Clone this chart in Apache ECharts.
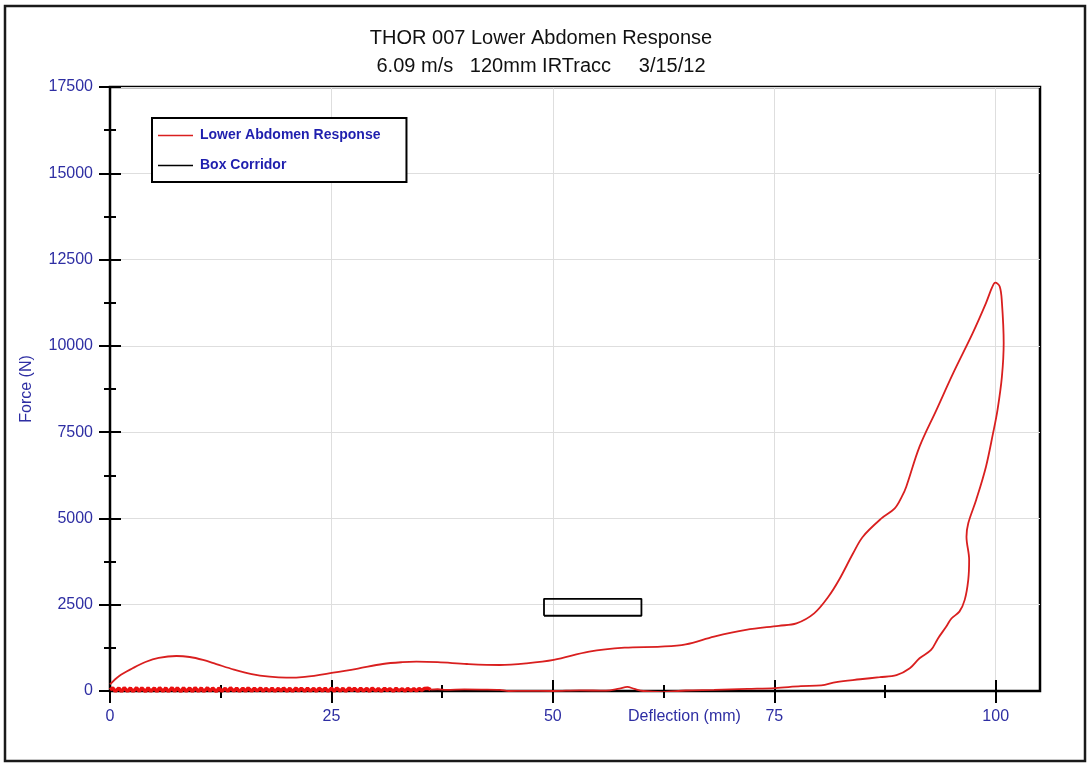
<!DOCTYPE html>
<html>
<head>
<meta charset="utf-8">
<script src="https://cdn.jsdelivr.net/npm/echarts@6/dist/echarts.min.js"></script>
<style>
  html, body { margin: 0; padding: 0; background: #fff; }
  #chart { width: 1092px; height: 764px; }
</style>
</head>
<body>
<div id="chart"></div>
<script>
// Deflection (mm) / force (N) pairs for the loading and unloading trace
const responseLoop = [
  [0, 190], [1, 430], [2.6, 665], [4, 840], [5.5, 960], [7.5, 1014], [9, 985],
  [10.5, 900], [12, 780], [14, 620], [16, 490], [18, 415], [19.9, 385], [22, 410],
  [25.2, 530], [28, 650], [30.8, 782], [33, 835], [34.6, 850], [37, 835], [40.3, 782],
  [44, 753], [47, 800], [50.1, 900], [54.1, 1140], [58.1, 1255], [62.2, 1285],
  [65, 1350], [68.2, 1575], [71.8, 1770], [75.5, 1890], [77.5, 1960], [79.5, 2250],
  [81.1, 2730], [82.3, 3215], [83.9, 3990], [85, 4470], [87.1, 5000], [88.6, 5290],
  [89.4, 5630], [89.9, 5920], [91.4, 7080], [93.3, 8140], [95.2, 9210], [97.4, 10370],
  [98.9, 11240], [99.6, 11700], [99.95, 11830],
  [100.45, 11720], [100.7, 11260], [100.9, 10080], [100.7, 9110], [100.2, 8140],
  [99.7, 7470], [98.9, 6500], [97.8, 5540], [96.9, 4860], [96.7, 4470], [97.0, 3800],
  [96.9, 3220], [96.5, 2640], [95.9, 2300], [95.0, 2100], [94.4, 1860], [93.5, 1530],
  [92.7, 1190], [91.4, 950], [90.3, 660], [88.8, 460], [86.9, 400], [84.7, 340],
  [82, 260], [80.3, 160], [78, 140], [75.1, 85], [72, 60], [68.2, 30], [65, 15],
  [62.4, -30], [60.2, 0], [59.2, 60], [58.4, 120], [57.5, 70], [56, 10], [53, 20],
  [50, 0], [47, 5], [45, 0], [44, 30], [42, 40], [40, 45], [38, 35], [37, 50], [36.2, 40]
];

// Noisy return to zero deflection after the rebound
const reboundTrace = [
  [36.2, 40], [35.9, 80], [35.7, 120], [35.5, 70], [35.2, 20], [34.9, 75], [34.6, 0],
  [34.3, 70], [34.0, 10], [33.6, 75], [33.3, -5], [33.0, 65], [32.6, 5], [32.3, 80],
  [32.0, -10], [31.6, 70], [31.3, 10], [31.0, 80], [30.6, -10], [30.3, 75], [30.0, 0],
  [29.6, 85], [29.3, -15], [29.0, 75], [28.6, 0], [28.3, 85], [28.0, -10], [27.6, 75],
  [27.3, 5], [27.0, 85], [26.6, -15], [26.3, 80], [26.0, -5], [25.6, 85], [25.3, -10],
  [25.0, 80], [24.6, -15], [24.3, 85], [24.0, 0], [23.6, 80], [23.3, -15], [23.0, 75],
  [22.6, -5], [22.3, 85], [22.0, -10], [21.6, 80], [21.3, 0], [21.0, 85], [20.6, -15],
  [20.3, 80], [20.0, -10], [19.6, 85], [19.3, 0], [19.0, 75], [18.6, -15], [18.3, 85],
  [18.0, -5], [17.6, 80], [17.3, -15], [17.0, 85], [16.6, 0], [16.3, 80], [16.0, -10],
  [15.6, 90], [15.3, -10], [15.0, 80], [14.6, -15], [14.3, 85], [14.0, -5], [13.6, 90],
  [13.3, -15], [13.0, 80], [12.6, -10], [12.3, 90], [12.0, -20], [11.6, 85], [11.3, -5],
  [11.0, 95], [10.6, -20], [10.3, 90], [10.0, -15], [9.6, 95], [9.3, -20], [9.0, 85],
  [8.6, -10], [8.3, 95], [8.0, -20], [7.6, 90], [7.3, -15], [7.0, 95], [6.6, -20],
  [6.3, 90], [6.0, -15], [5.6, 95], [5.3, -20], [5.0, 90], [4.6, -15], [4.3, 95],
  [4.0, -20], [3.6, 90], [3.3, -15], [3.0, 95], [2.6, -20], [2.3, 90], [2.0, -15],
  [1.6, 95], [1.3, -20], [1.0, 90], [0.6, -15], [0.3, 90], [0, 30]
];

// Target corridor box (deflection mm, force N)
const boxCorridor = [[49, 2180], [60, 2180], [60, 2670], [49, 2670], [49, 2180]];

// Axis tick positions
const xMajorTicks = [0, 25, 50, 75, 100];
const xMinorTicks = [12.5, 37.5, 62.5, 87.5];
const yMajorTicks = [0, 2500, 5000, 7500, 10000, 12500, 15000, 17500];
const yMinorTicks = [1250, 3750, 6250, 8750, 11250, 13750, 16250];

const titleLines = ['THOR 007 Lower Abdomen Response', '6.09 m/s   120mm IRTracc     3/15/12'];
const seriesNames = ['Lower Abdomen Response', 'Box Corridor'];

const FONT = '"Liberation Sans", Arial, sans-serif';
const BLUE = '#2e2ea3';
const RED = '#d91f1f';

const chart = echarts.init(document.getElementById('chart'), null, { renderer: 'canvas' });

function tickAxis(kind, values, len, inside, main) {
  const isX = kind === 'x';
  const ax = {
    type: 'value',
    position: isX ? 'bottom' : 'left',
    min: 0,
    max: isX ? 105 : 17500,
    interval: isX ? 25 : 2500,
    axisLine: { show: !!main, onZero: false, lineStyle: { color: '#000', width: 2 } },
    axisTick: {
      show: true, inside: inside, length: len, customValues: values,
      lineStyle: { color: '#000', width: 2 }
    },
    axisLabel: { show: false },
    splitLine: { show: false }
  };
  if (main) {
    ax.axisLabel = {
      show: true, customValues: values, color: BLUE, fontSize: 16,
      fontFamily: FONT, margin: isX ? 18 : 17,
      formatter: (v) => String(v)
    };
    ax.splitLine = { show: true, lineStyle: { color: '#dedede', width: 1 } };
  }
  return ax;
}

const xAxes = [
  tickAxis('x', xMajorTicks, 12, false, true),
  tickAxis('x', xMajorTicks, 11, true, false),
  tickAxis('x', xMinorTicks, 7, false, false),
  tickAxis('x', xMinorTicks, 6, true, false)
];
const yAxes = [
  tickAxis('y', yMajorTicks, 11, false, true),
  tickAxis('y', yMajorTicks, 11, true, false),
  tickAxis('y', yMinorTicks, 6, false, false),
  tickAxis('y', yMinorTicks, 6, true, false)
];
yAxes[0].name = 'Force (N)';
yAxes[0].nameLocation = 'middle';
yAxes[0].nameGap = 75;
yAxes[0].nameTextStyle = { color: BLUE, fontSize: 16, fontFamily: FONT };

const option = {
  animation: false,
  backgroundColor: '#fff',
  title: {
    text: titleLines.join('\n'),
    left: 541,
    top: 24,
    textAlign: 'center',
    padding: 0,
    textStyle: { color: '#111', fontSize: 20, fontWeight: 'normal', fontFamily: FONT, lineHeight: 28 }
  },
  legend: {
    data: seriesNames,
    orient: 'vertical',
    left: 152,
    top: 118,
    padding: [9, 26, 8, 6],
    itemGap: 13,
    icon: 'rect',
    itemWidth: 35,
    itemHeight: 1.6,
    borderColor: '#000',
    borderWidth: 2,
    backgroundColor: '#fff',
    textStyle: { color: '#1f1fae', fontSize: 14, fontWeight: 'bold', fontFamily: FONT, lineHeight: 17, padding: [0, 0, 0, 2] }
  },
  grid: {
    left: 110, right: 52, top: 87, bottom: 73,
    show: true, borderColor: '#000', borderWidth: 2.5, backgroundColor: 'transparent'
  },
  xAxis: xAxes,
  yAxis: yAxes,
  graphic: [
    {
      type: 'rect', silent: true, z: 100,
      shape: { x: 5, y: 6, width: 1080, height: 755 },
      style: { fill: null, stroke: '#1a1a1a', lineWidth: 2.5 }
    },
    {
      type: 'text', left: 628, top: 709, silent: true,
      style: { text: 'Deflection (mm)', fill: BLUE, fontSize: 16, fontFamily: FONT }
    }
  ],
  series: [
    {
      name: seriesNames[0], type: 'line', data: responseLoop,
      smooth: 0.35, symbol: 'none', color: RED,
      lineStyle: { color: RED, width: 1.8 }, z: 3
    },
    {
      name: seriesNames[0], type: 'line', data: reboundTrace,
      smooth: false, symbol: 'none', color: RED,
      lineStyle: { color: '#ea1010', width: 3.5 }, z: 3
    },
    {
      name: seriesNames[1], type: 'line', data: boxCorridor,
      smooth: false, symbol: 'none', color: '#000',
      lineStyle: { color: '#000', width: 1.8 }, z: 2
    }
  ]
};

chart.setOption(option);
</script>
</body>
</html>
